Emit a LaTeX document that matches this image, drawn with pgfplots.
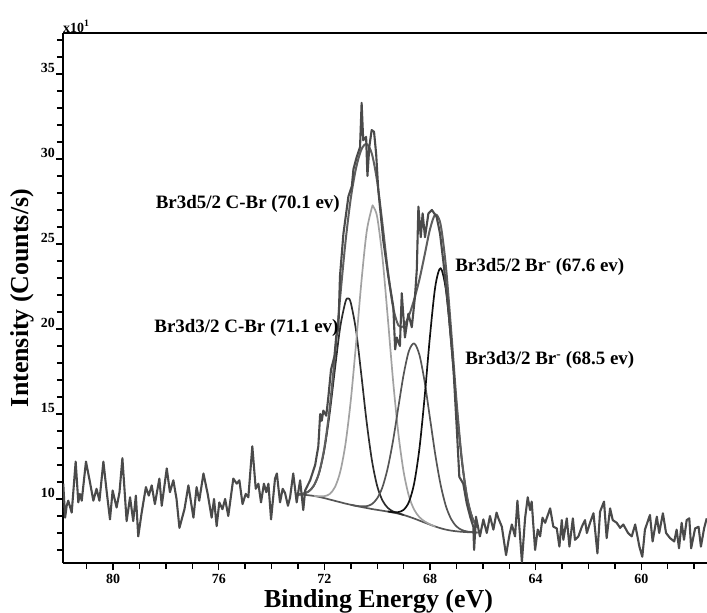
\documentclass[border=0pt]{standalone}
\usepackage{pgfplots}
\pgfplotsset{compat=1.18}
\usepackage{fontspec}
\setmainfont{Liberation Serif}
\definecolor{meas}{HTML}{4A4A4A}
\definecolor{envc}{HTML}{5E5E5E}
\definecolor{compA}{HTML}{2C2C2C}
\definecolor{compB}{HTML}{A2A2A2}
\definecolor{compC}{HTML}{555555}
\definecolor{compD}{HTML}{111111}
\definecolor{bgc}{HTML}{555555}
\begin{document}
\begin{tikzpicture}
\begin{axis}[
  scale only axis, width=644bp, height=530bp,
  x dir=reverse, xmin=57.51, xmax=81.9, ymin=6.235, ymax=37.41,
  axis x line*=bottom, axis y line*=left,
  axis line style={-, line width=1.5bp, black},
  tick align=outside,
  xtick={60,64,...,80}, minor xtick={58,59,...,81},
  ytick={10,15,...,35}, minor ytick={7,8,...,37},
  major tick length=7bp, minor tick length=6bp,
  every tick/.style={black, line width=1.4bp},
  /pgf/number format/assume math mode=true,
  tick label style={font=\fontsize{14}{14}\selectfont\bfseries},
  yticklabel style={anchor=south east, inner sep=1bp},
  xticklabel style={yshift=-1bp},
  xlabel={Binding Energy (eV)}, ylabel={Intensity (Counts/s)},
  label style={font=\fontsize{26}{26}\selectfont\bfseries},
  xlabel style={at={(axis description cs:0.49,-0.072)}, anchor=center},
  ylabel style={at={(axis description cs:-0.0637,0.5)}, anchor=center},
  every axis plot/.append style={line join=round},
]
% Background
\addplot[bgc, line width=1.7bp, smooth] coordinates {
(73.0,10.25)(72.8,10.25)(72.6,10.22)(72.4,10.18)(72.2,10.12)(72.0,10.05)(71.8,9.97)(71.6,9.89)(71.4,9.81)(71.2,9.73)(71.0,9.66)(70.8,9.59)(70.6,9.53)(70.4,9.47)(70.2,9.41)(70.0,9.36)(69.8,9.31)(69.6,9.26)(69.4,9.20)(69.2,9.14)(69.0,9.06)(68.8,8.96)(68.6,8.85)(68.4,8.73)(68.2,8.61)(68.0,8.49)(67.8,8.38)(67.6,8.28)(67.4,8.20)(67.2,8.14)(67.0,8.10)(66.8,8.07)(66.6,8.05)(66.4,8.04)(66.2,8.03)};
% Br3d3/2 C-Br (71.1)
\addplot[compA, line width=1.7bp, smooth] coordinates {
(73.0,10.27)(72.8,10.32)(72.6,10.44)(72.4,10.78)(72.2,11.52)(72.0,12.91)(71.8,15.03)(71.6,17.65)(71.4,20.12)(71.2,21.61)(71.1,21.80)(71.0,21.54)(70.8,19.90)(70.6,17.29)(70.4,14.53)(70.2,12.27)(70.0,10.76)(69.8,9.91)(69.6,9.48)(69.4,9.27)(69.2,9.16)(69.0,9.06)};
% Br3d5/2 C-Br (70.1)
\addplot[compB, line width=1.7bp, smooth] coordinates {
(72.4,10.19)(72.2,10.16)(72.0,10.17)(71.8,10.29)(71.6,10.70)(71.4,11.60)(71.2,13.25)(71.0,15.81)(70.8,19.15)(70.6,22.75)(70.4,25.71)(70.2,27.14)(70.15,27.20)(70.0,26.58)(69.8,24.18)(69.6,20.67)(69.4,16.98)(69.2,13.86)(69.0,11.61)(68.8,10.18)(68.6,9.37)(68.4,8.93)(68.2,8.68)(68.0,8.51)(67.8,8.38)};
% Br3d3/2 Br- (68.5)
\addplot[compC, line width=1.7bp, smooth] coordinates {
(71.0,9.66)(70.8,9.60)(70.6,9.57)(70.4,9.58)(70.2,9.70)(70.0,10.04)(69.8,10.70)(69.6,11.83)(69.4,13.43)(69.2,15.39)(69.0,17.31)(68.8,18.70)(68.6,19.15)(68.4,18.47)(68.2,16.86)(68.0,14.74)(67.8,12.61)(67.6,10.85)(67.4,9.59)(67.2,8.82)(67.0,8.39)(66.8,8.18)(66.6,8.09)(66.4,8.05)(66.2,8.03)};
% Br3d5/2 Br- (67.6)
\addplot[compD, line width=1.7bp, smooth] coordinates {
(69.6,9.27)(69.4,9.22)(69.2,9.23)(69.0,9.36)(68.8,9.82)(68.6,10.92)(68.4,12.98)(68.2,16.06)(68.0,19.60)(67.8,22.50)(67.6,23.58)(67.4,22.32)(67.2,19.25)(67.0,15.55)(66.8,12.32)(66.6,10.12)(66.4,8.90)(66.2,8.33)};
% Envelope
\addplot[envc, line width=2bp, smooth] coordinates {
(73.0,10.27)(72.8,10.32)(72.6,10.44)(72.4,10.79)(72.2,11.56)(72.0,13.03)(71.8,15.35)(71.6,18.46)(71.4,21.91)(71.2,25.13)(71.0,27.69)(70.8,29.47)(70.6,30.55)(70.4,30.88)(70.2,30.29)(70.0,28.66)(69.8,26.17)(69.6,23.47)(69.4,21.30)(69.2,20.22)(69.0,20.16)(68.8,20.78)(68.6,21.74)(68.4,22.92)(68.2,24.38)(68.0,25.87)(67.8,26.73)(67.6,26.15)(67.4,23.71)(67.2,19.93)(67.0,15.84)(66.8,12.43)(66.6,10.16)(66.4,8.91)(66.2,8.33)};
% Measured spectrum
\addplot[meas, line width=2.1bp] coordinates {
(81.89,10.9)(81.82,8.9)(81.76,9.6)(81.70,9.9)(81.57,9.2)(81.42,12.2)(81.32,9.8)(81.26,10.3)(81.19,9.9)(81.03,12.2)(80.88,11.0)(80.75,9.9)(80.63,10.6)(80.52,9.9)(80.37,12.2)(80.25,10.5)(80.12,8.8)(80.02,10.5)(79.87,9.5)(79.76,10.4)(79.65,12.4)(79.49,8.7)(79.36,10.1)(79.24,8.7)(79.14,10.2)(79.05,7.8)(78.92,9.2)(78.76,10.7)(78.65,10.2)(78.54,10.8)(78.42,9.7)(78.25,11.2)(78.16,9.6)(77.97,11.8)(77.85,10.4)(77.72,11.1)(77.60,10.0)(77.49,8.3)(77.30,9.4)(77.15,10.8)(76.96,8.9)(76.84,10.7)(76.74,9.9)(76.58,11.5)(76.42,10.3)(76.27,8.9)(76.18,10.0)(76.08,8.4)(75.98,9.8)(75.86,9.4)(75.76,10.0)(75.64,9.0)(75.45,11.2)(75.32,10.9)(75.22,11.1)(75.10,9.7)(74.98,10.3)(74.88,10.1)(74.73,13.1)(74.60,10.6)(74.50,10.9)(74.40,9.8)(74.29,10.9)(74.20,10.4)(74.12,10.9)(74.02,8.8)(73.87,11.2)(73.80,11.5)(73.68,9.8)(73.58,10.6)(73.49,10.35)(73.38,9.6)(73.30,10.1)(73.18,11.5)(73.05,9.8)(72.92,11.1)(72.80,9.35)(72.73,10.5)(72.54,11.1)(72.35,12.0)(72.23,13.1)(72.16,15.0)(72.10,14.6)(72.04,15.2)(71.93,14.9)(71.85,16.0)(71.75,17.6)(71.62,18.4)(71.55,19.6)(71.47,20.0)(71.41,23.1)(71.28,25.6)(71.09,27.8)(70.96,28.4)(70.90,29.4)(70.78,30.1)(70.65,30.7)(70.59,33.3)(70.53,31.1)(70.42,31.3)(70.37,29.0)(70.30,30.7)(70.21,31.7)(70.12,31.6)(70.04,30.3)(69.96,28.2)(69.77,25.2)(69.58,23.1)(69.39,21.3)(69.32,18.8)(69.26,19.5)(69.14,19.0)(69.07,22.1)(68.95,19.5)(68.82,20.9)(68.69,20.1)(68.57,21.9)(68.50,23.5)(68.44,27.2)(68.35,25.4)(68.28,26.8)(68.19,25.4)(68.06,26.8)(67.93,27.0)(67.75,26.6)(67.62,25.6)(67.49,23.9)(67.30,21.1)(67.11,17.6)(66.99,14.25)(66.89,11.3)(66.74,10.9)(66.61,9.75)(66.48,8.96)(66.36,8.37)(66.33,7.0)(66.26,8.96)(66.11,7.8)(65.98,8.8)(65.85,8.0)(65.73,9.0)(65.60,8.2)(65.48,9.2)(65.41,8.86)(65.28,8.37)(65.12,6.7)(64.99,7.9)(64.90,8.5)(64.78,7.8)(64.69,9.9)(64.59,7.8)(64.52,6.3)(64.40,8.86)(64.30,10.1)(64.21,9.35)(64.15,9.85)(64.02,7.0)(63.92,8.2)(63.83,7.8)(63.74,8.9)(63.64,8.6)(63.45,9.45)(63.33,8.37)(63.20,8.27)(63.10,7.2)(63.01,8.76)(62.95,7.6)(62.82,8.86)(62.72,7.2)(62.59,8.86)(62.51,7.6)(62.38,7.8)(62.25,8.37)(62.13,8.76)(62.06,8.0)(61.94,8.6)(61.81,9.16)(61.66,6.8)(61.56,9.25)(61.41,9.85)(61.31,7.7)(61.18,9.45)(61.08,8.76)(60.93,8.6)(60.80,8.3)(60.68,8.5)(60.50,8.0)(60.36,7.8)(60.23,8.5)(60.07,7.2)(59.96,6.6)(59.86,8.2)(59.67,9.06)(59.57,7.5)(59.41,8.96)(59.32,8.0)(59.18,9.16)(59.06,8.0)(58.91,7.7)(58.75,7.5)(58.66,8.2)(58.57,7.1)(58.47,8.6)(58.38,7.6)(58.28,8.76)(58.18,8.86)(58.11,7.1)(57.96,8.27)(57.83,8.37)(57.74,7.2)(57.62,8.27)(57.52,8.86)};
\begin{scope}[every node/.style={font=\fontsize{19}{19}\selectfont\bfseries, inner sep=0pt}]
\node[anchor=east] at (axis cs:71.41,27.35) {Br3d5/2 C-Br (70.1 ev)};
\node[anchor=east] at (axis cs:71.46,20.06) {Br3d3/2 C-Br (71.1 ev)};
\node[anchor=west] at (axis cs:67.05,23.65) {Br3d5/2 Br\textsuperscript{-} (67.6 ev)};
\node[anchor=west] at (axis cs:66.67,18.18) {Br3d3/2 Br\textsuperscript{-} (68.5 ev)};
\end{scope}
\coordinate (TL) at (rel axis cs:0,1);
\coordinate (TR) at (rel axis cs:1,1);
\coordinate (BL) at (rel axis cs:0,0);
\end{axis}
\draw[line width=1.5bp] (TL) -- (TR);
\node[anchor=south west, inner sep=0pt, yshift=0.5bp, font=\fontsize{14}{14}\selectfont\bfseries] at (TL) {x10\textsuperscript{1}};
\pgfresetboundingbox
\path[use as bounding box] (BL) ++(-63bp,-50bp) rectangle ++(707bp,613bp);
\end{tikzpicture}
\end{document}
